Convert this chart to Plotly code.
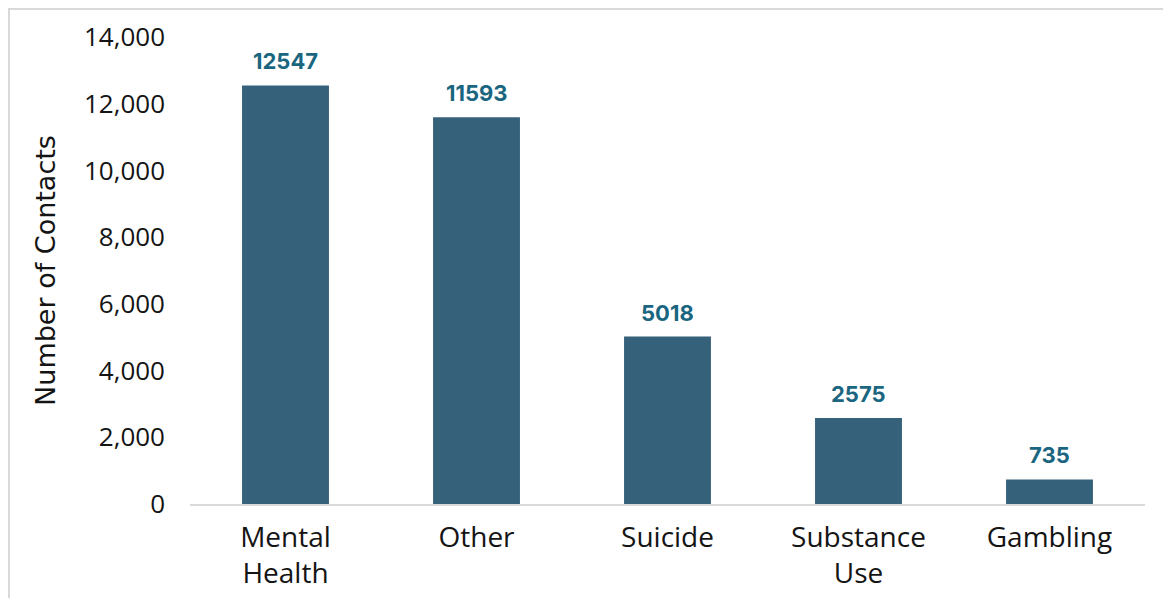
import plotly.graph_objects as go

categories = ["Mental<br>Health", "Other", "Suicide", "Substance<br>Use", "Gambling"]
values = [12547, 11593, 5018, 2575, 735]
y_ticks = [0, 2000, 4000, 6000, 8000, 10000, 12000, 14000]
y_tick_labels = ["0", "2,000", "4,000", "6,000", "8,000", "10,000", "12,000", "14,000"]

BAR = "#36617a"
LABEL = "#1a6680"
TXT = "#141414"

L, R, T, B = 190, 18, 37, 94
W, H = 1163, 598
pw, ph = W - L - R, H - T - B

fig = go.Figure(go.Bar(x=categories, y=values, marker=dict(color=BAR, line=dict(width=0)),
                       hoverinfo="skip"))

for c, v in zip(categories, values):
    fig.add_annotation(x=c, y=v, text=f"<b>{v}</b>", showarrow=False, yanchor="bottom",
                       yshift=9, font=dict(family="Inter, Open Sans, sans-serif", size=22, color=LABEL))

# outer chart border (top and left visible)
fig.add_shape(type="rect", xref="paper", yref="paper",
              x0=(9 - L) / pw, x1=(W + 20 - L) / pw,
              y0=(H - B - (H + 20)) / ph, y1=(H - B - 9) / ph,
              line=dict(color="#d9d9d9", width=2), fillcolor="rgba(0,0,0,0)", layer="below")

fig.update_layout(
    width=W, height=H,
    margin=dict(l=L, r=R, t=T, b=B, pad=0),
    paper_bgcolor="white", plot_bgcolor="white",
    bargap=0.545,
    showlegend=False,
    font=dict(family="Open Sans, sans-serif", size=26, color=TXT),
    xaxis=dict(showline=True, linecolor="#d9d9d9", linewidth=2, ticks="", showgrid=False,
               tickfont=dict(family="Open Sans, sans-serif", size=28, color=TXT),
               ticklabelstandoff=7, automargin=False, fixedrange=True),
    yaxis=dict(range=[0, 14000], tickvals=y_ticks, ticktext=y_tick_labels, showgrid=False,
               zeroline=False, showline=False, ticks="", ticklabelstandoff=24,
               tickfont=dict(family="Open Sans, sans-serif", size=26, color=TXT),
               title=dict(text="Number of Contacts", standoff=20,
                          font=dict(family="DejaVu Sans, sans-serif", size=27, color=TXT)),
               automargin=False, fixedrange=True),
)

fig.write_html("out.html")
